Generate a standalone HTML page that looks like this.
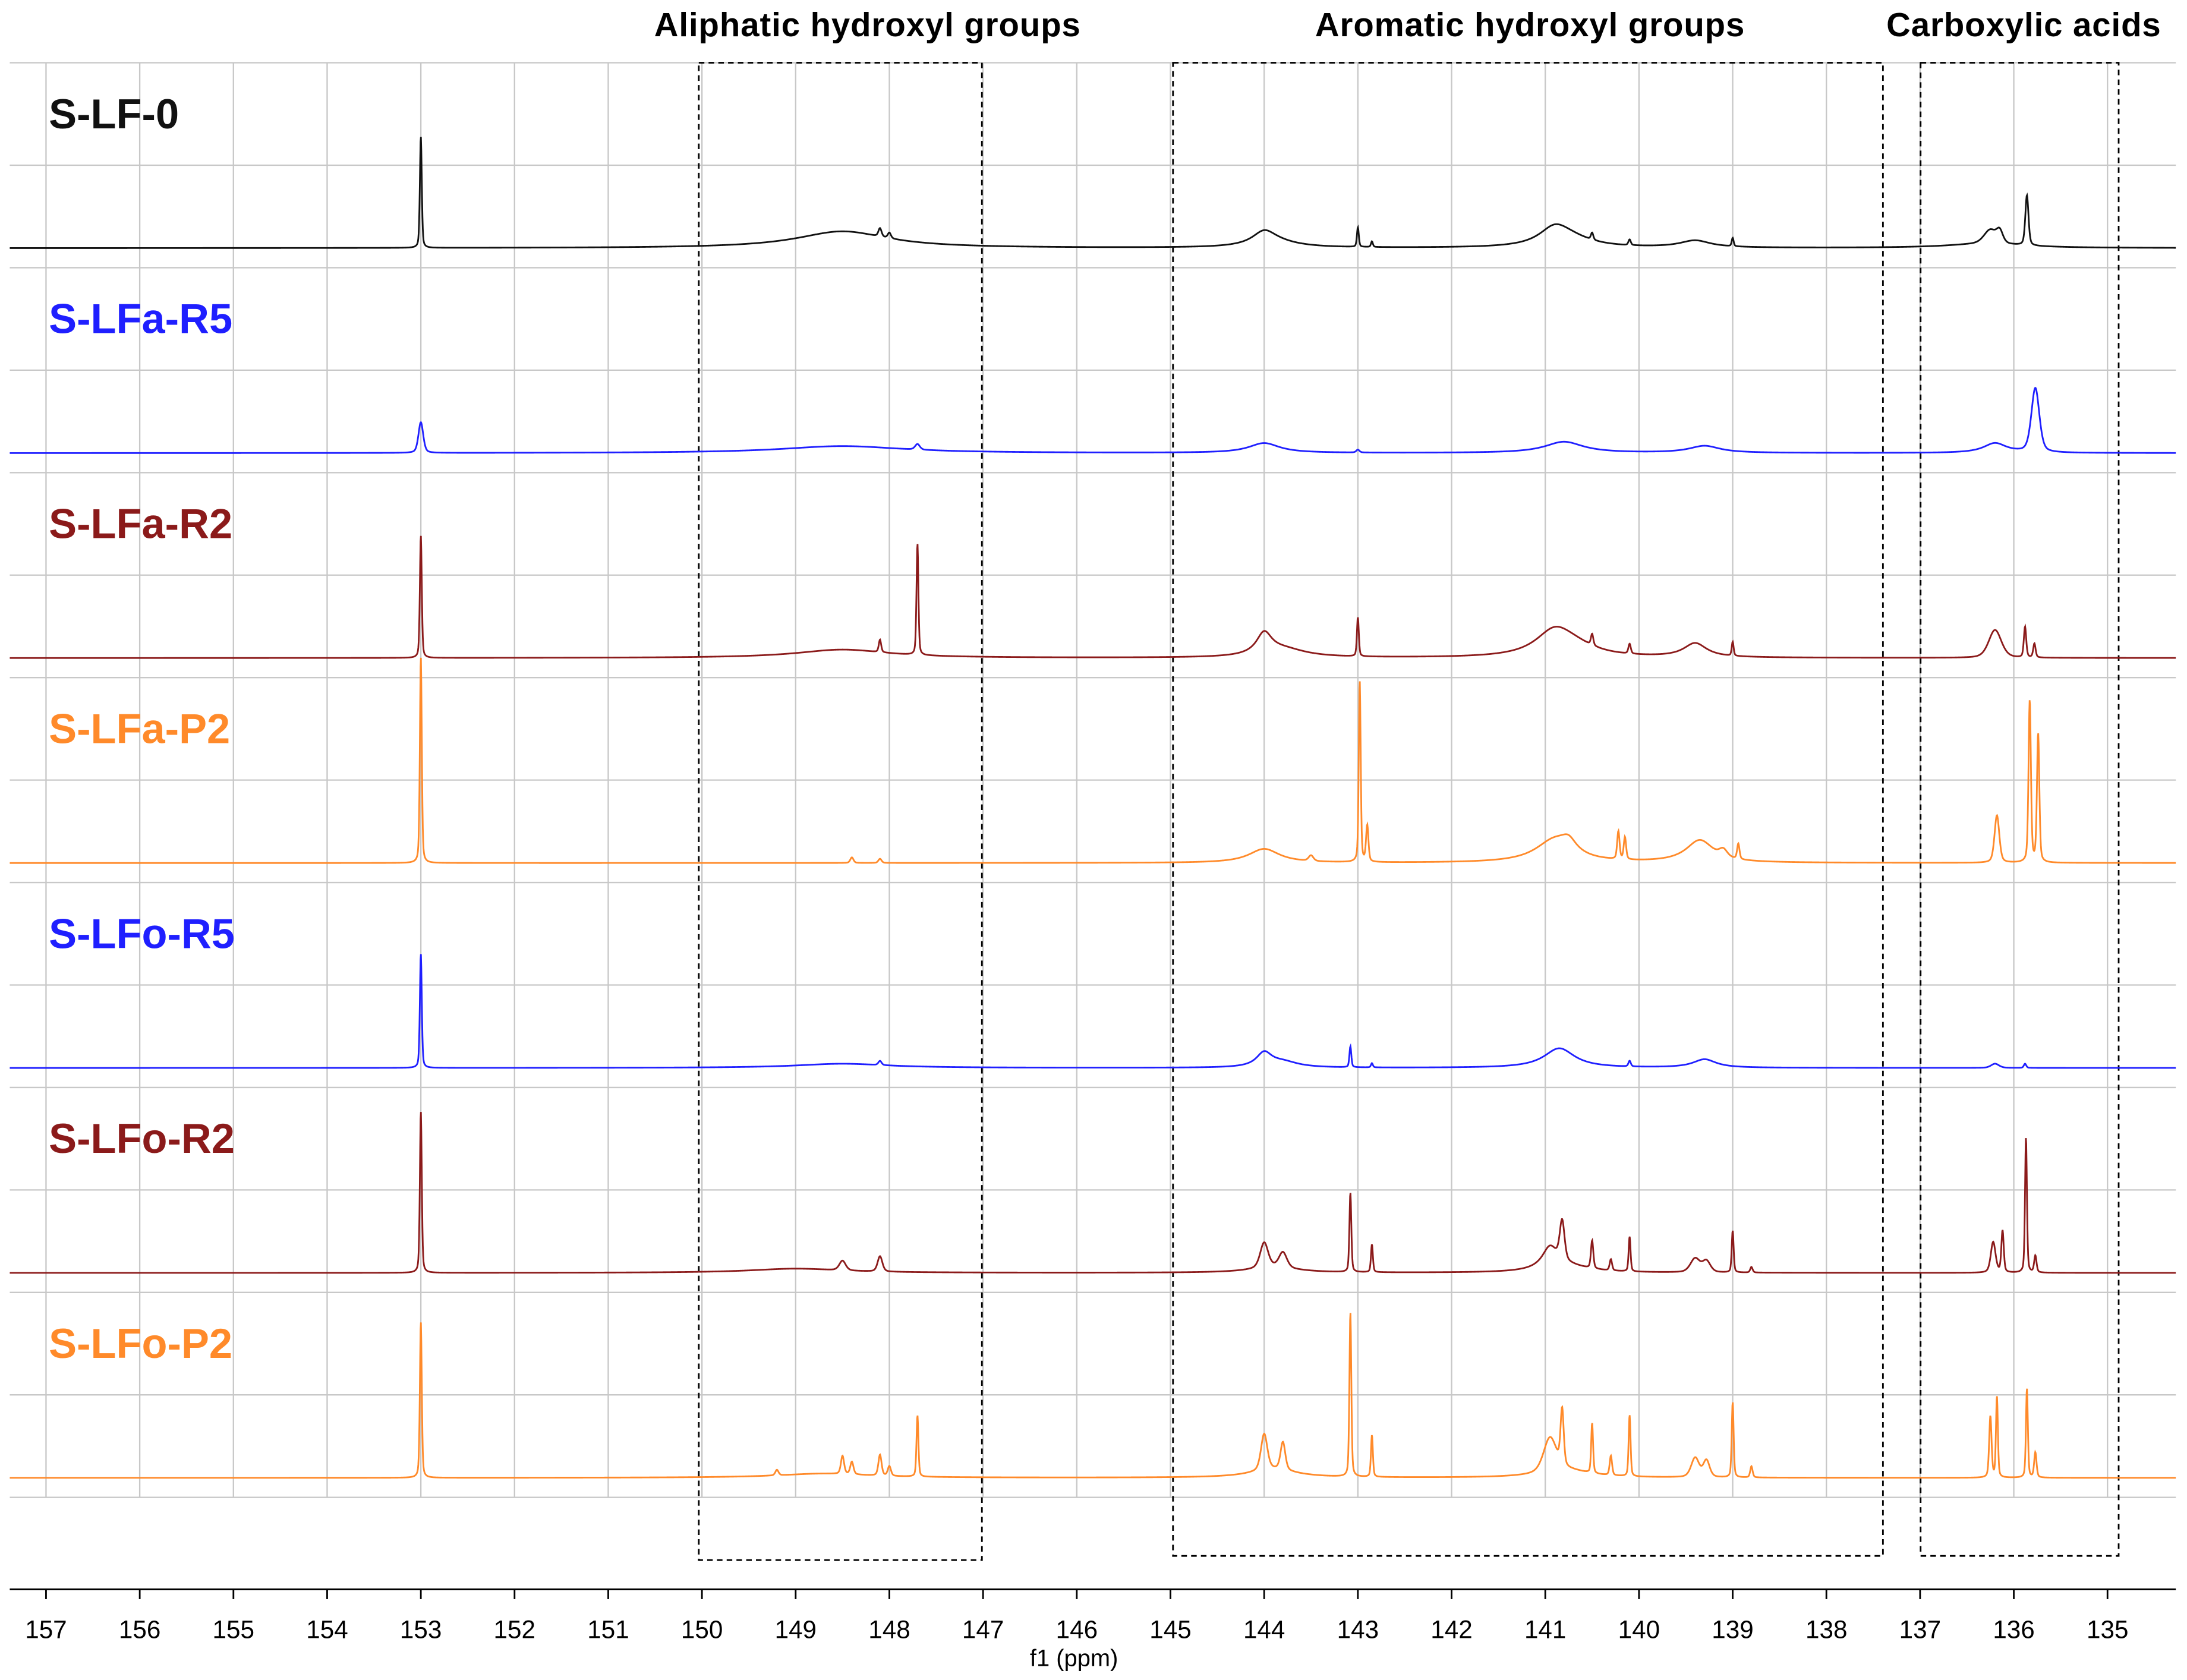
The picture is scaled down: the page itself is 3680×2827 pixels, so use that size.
<!DOCTYPE html>
<html><head><meta charset="utf-8"><style>
html,body{margin:0;padding:0;background:#fff;}
svg{display:block;}
text{font-family:"Liberation Sans",sans-serif;}
</style></head><body>
<svg id="chart" width="3680" height="2827" viewBox="0 0 1568 1205" preserveAspectRatio="none" xmlns="http://www.w3.org/2000/svg">
<rect width="1568" height="1205" fill="#fff"/>
<g id="grid"></g>
<g id="boxes">
<rect x="501" y="45" width="203" height="1074" fill="none" stroke="#000" stroke-width="1.2" stroke-dasharray="4,3"/>
<rect x="841" y="45" width="509" height="1071" fill="none" stroke="#000" stroke-width="1.2" stroke-dasharray="4,3"/>
<rect x="1377" y="45" width="142" height="1071" fill="none" stroke="#000" stroke-width="1.2" stroke-dasharray="4,3"/>
</g>
<g id="spectra"></g>
<g id="labels"></g>
<text x="622" y="26" text-anchor="middle" font-size="24" font-weight="bold" letter-spacing="0.4">Aliphatic  hydroxyl groups</text>
<text x="1097" y="26" text-anchor="middle" font-size="24" font-weight="bold" letter-spacing="0.4">Aromatic hydroxyl groups</text>
<text x="1451" y="26" text-anchor="middle" font-size="24" font-weight="bold" letter-spacing="0.4">Carboxylic acids</text>
<g id="axis"></g>
<text x="770" y="1195" text-anchor="middle" font-size="17">f1 (ppm)</text>
</svg>
<script>
const tickLabels = [157,156,155,154,153,152,151,150,149,148,147,146,145,144,143,142,141,140,139,138,137,136,135];
const seriesNames = ["S-LF-0","S-LFa-R5","S-LFa-R2","S-LFa-P2","S-LFo-R5","S-LFo-R2","S-LFo-P2"];
const seriesColors = ["#111111","#1f1fff","#8b1a1a","#ff8a2a","#1f1fff","#8b1a1a","#ff8a2a"];
// peaks: [ppm, height, half-width]
const peaksLF0 = [[153.0,80,0.012],[148.5,12,0.6],[148.1,6,0.02],[148.0,4,0.02],[144.0,9,0.15],[143.9,4,0.3],[143.0,14,0.012],[142.85,4,0.012],[140.9,12,0.2],[140.75,6,0.3],[140.5,5,0.015],[140.1,4,0.015],[139.4,5,0.2],[139.0,6,0.012],[136.25,10,0.08],[136.15,8,0.04],[135.86,36,0.02],[136.3,3,0.5]];
const peaksLFaR5 = [[153.0,22,0.03],[148.5,5,0.8],[147.7,4,0.03],[144.0,7,0.2],[143.0,2,0.02],[140.8,8,0.25],[139.3,5,0.2],[136.2,7,0.15],[135.77,46,0.05]];
const peaksLFaR2 = [[153.0,88,0.012],[148.5,6,0.6],[148.1,9,0.015],[147.7,80,0.012],[144.0,15,0.1],[143.8,6,0.3],[143.0,28,0.012],[140.9,18,0.25],[140.7,6,0.3],[140.5,8,0.015],[140.1,7,0.015],[139.4,10,0.15],[139.0,10,0.012],[136.2,20,0.08],[135.88,22,0.015],[135.78,10,0.015]];
const peaksLFaP2 = [[153.0,148,0.012],[148.4,4,0.02],[148.1,3,0.02],[144.0,10,0.2],[143.5,4,0.03],[142.98,130,0.012],[142.9,26,0.015],[140.9,16,0.25],[140.75,8,0.1],[140.22,20,0.015],[140.15,16,0.015],[139.35,16,0.18],[139.1,5,0.05],[138.94,11,0.015],[136.18,34,0.03],[135.83,116,0.015],[135.74,92,0.015]];
const peaksLFoR5 = [[153.0,82,0.012],[148.5,3,0.6],[148.1,3,0.02],[144.0,10,0.1],[143.8,4,0.2],[143.08,15,0.012],[142.85,3,0.012],[140.85,14,0.2],[140.1,4,0.015],[139.3,6,0.15],[136.2,3,0.05],[135.88,3,0.015]];
const peaksLFoR2 = [[153.0,116,0.012],[148.5,7,0.04],[148.1,11,0.03],[149.0,3,0.6],[144.0,18,0.05],[143.8,11,0.05],[143.9,4,0.3],[143.08,57,0.012],[142.85,20,0.012],[140.95,15,0.1],[140.82,28,0.03],[140.5,20,0.015],[140.3,8,0.015],[140.1,25,0.012],[140.8,5,0.3],[139.4,10,0.06],[139.28,8,0.05],[139.0,30,0.012],[138.8,4,0.015],[136.22,22,0.03],[136.12,30,0.015],[135.87,97,0.012],[135.77,12,0.015]];
const peaksLFoP2 = [[153.0,112,0.012],[149.2,4,0.02],[148.5,13,0.02],[148.4,9,0.02],[148.1,15,0.02],[148.0,7,0.02],[147.7,44,0.012],[148.7,3,0.6],[144.0,26,0.04],[143.8,20,0.03],[143.9,6,0.3],[143.08,118,0.012],[142.85,30,0.012],[140.95,24,0.08],[140.82,40,0.02],[140.5,36,0.012],[140.3,14,0.015],[140.1,44,0.012],[140.8,6,0.3],[139.4,14,0.05],[139.28,12,0.04],[139.0,54,0.012],[138.8,8,0.015],[136.25,44,0.015],[136.18,58,0.012],[135.86,64,0.012],[135.77,18,0.015]];
const allPeaks = [peaksLF0,peaksLFaR5,peaksLFaR2,peaksLFaP2,peaksLFoR5,peaksLFoR2,peaksLFoP2];

const NS="http://www.w3.org/2000/svg";
const X0=33, PX=(1511-33)/22;
function xScale(ppm){return X0+(157-ppm)*PX;}
function baseY(i){return 178+i*147;}
function mk(tag,attrs,parent){const e=document.createElementNS(NS,tag);for(const k in attrs)e.setAttribute(k,attrs[k]);parent.appendChild(e);return e;}

const grid=document.getElementById('grid');
for(let k=0;k<=14;k++){
  const y=45+k*73.5;
  const l=mk('line',{x1:7,x2:1560,y1:y,y2:y,stroke:'#c8c8c8','stroke-width':1},grid);
  
  
}
tickLabels.forEach(v=>{
  const x=xScale(v);
  const l=mk('line',{x1:x,x2:x,y1:45,y2:1074,stroke:'#c8c8c8','stroke-width':1},grid);
  
  
});

const axis=document.getElementById('axis');
const al=mk('line',{x1:7,x2:1560,y1:1140,y2:1140,stroke:'#000','stroke-width':1.3},axis);


tickLabels.forEach(v=>{
  const x=xScale(v);
  const t=mk('line',{x1:x,x2:x,y1:1140,y2:1147,stroke:'#000','stroke-width':1.2},axis);
  
  
  const tx=mk('text',{x:x,y:1175,'text-anchor':'middle','font-size':18},axis);
  tx.textContent=v;
  
  
});

const spectra=document.getElementById('spectra');
const labels=document.getElementById('labels');
const pL=157+(33-7)/PX, pR=157-(1560-33)/PX;
function shape(u,w){
  // narrow peaks: mostly gaussian to avoid wide tails
  if(w<0.1) return 0.6*Math.exp(-0.693*u*u)+0.4/(1+u*u);
  return 1/(1+u*u);
}
allPeaks.forEach((peaks,i)=>{
  const b=baseY(i);
  let d='';
  for(let p=pL;p>=pR;p-=0.004){
    let s=0;
    for(const [c,h,w] of peaks){const u=(p-c)/w;s+=h*shape(u,w);}
    d+=(d?'L':'M')+xScale(p).toFixed(2)+','+(b-s).toFixed(2);
  }
  const path=mk('path',{d:d,fill:'none',stroke:seriesColors[i],'stroke-width':1.2},spectra);
  
  
  const t=mk('text',{x:35,y:b-86,'font-size':30,'font-weight':'bold',fill:seriesColors[i]},labels);
  t.textContent=seriesNames[i];
  
  
});
</script>
</body></html>
